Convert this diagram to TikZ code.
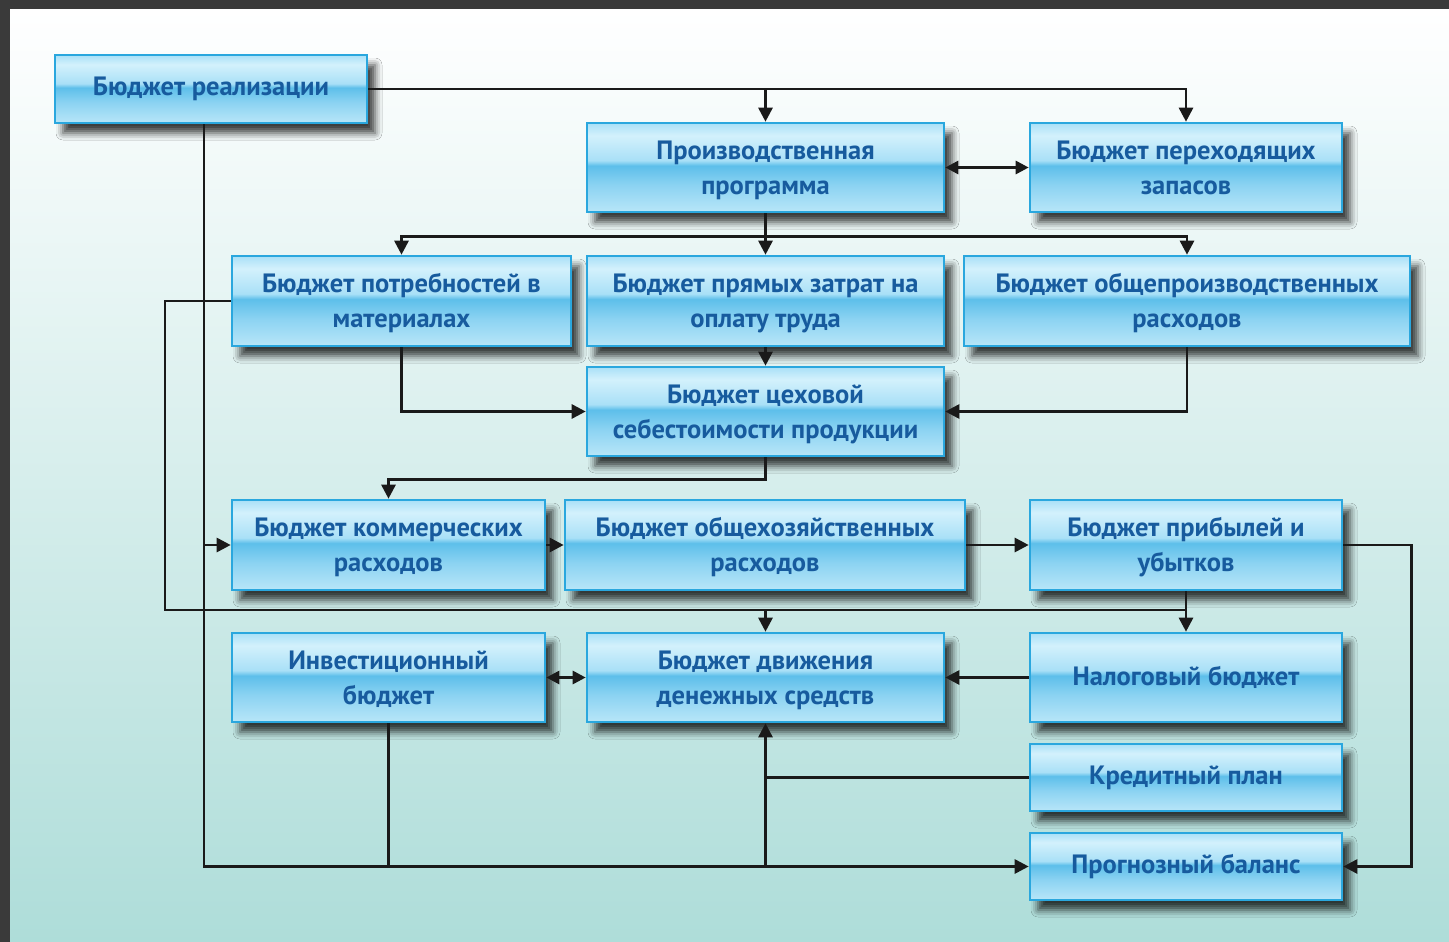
\documentclass[tikz,border=0pt]{standalone}
\usepackage{fontspec}
\setmainfont{PT Sans}
\usetikzlibrary{arrows.meta,shadows.blur,calc}
\definecolor{frame}{HTML}{3A3A3A}
\definecolor{bgtop}{HTML}{FFFFFF}
\definecolor{bgmid}{HTML}{DDF0F0}
\definecolor{bgbot}{HTML}{AEDDD9}
\definecolor{g1}{HTML}{D3F1FC}
\definecolor{g2}{HTML}{A9E0F7}
\definecolor{g3}{HTML}{5DBFEA}
\definecolor{g4}{HTML}{8CD3F2}
\definecolor{g5}{HTML}{B8E6F8}
\definecolor{bordc}{HTML}{2AA7DE}
\definecolor{txtc}{HTML}{175B9E}
\definecolor{linec}{HTML}{1A1A1A}
\pgfdeclareverticalshading{glossy}{100bp}{color(0bp)=(g5); color(25bp)=(g5); color(40bp)=(g4); color(51bp)=(g3); color(54bp)=(g2); color(68bp)=(g1); color(75bp)=(g2); color(100bp)=(g2)}
\begin{document}
\begin{tikzpicture}[x=1pt,y=-1pt,
  box/.style={draw=bordc, line width=2.6pt, shading=glossy, inner sep=0pt,
    align=center, text=txtc, font=\fontsize{26.5}{35}\selectfont\bfseries,
    blur shadow={shadow xshift=8pt, shadow yshift=-10pt, shadow blur radius=7pt, shadow opacity=75}},
  twoline/.style={box,
    execute at begin node={\rule{0pt}{62pt}},
    execute at end node={\rule[-9pt]{0pt}{9pt}}},
  ln/.style={draw=linec, line width=2.8pt},
  arr/.style={ln, -{Triangle[length=14pt,width=14pt]}},
  darr/.style={ln, {Triangle[length=13pt,width=13pt]}-{Triangle[length=13pt,width=13pt]}}]
\useasboundingbox (0,0) rectangle (1449,942);
\fill[frame] (0,0) rectangle (1449,942);
\shade[top color=bgtop, middle color=bgmid, bottom color=bgbot] (10,10) rectangle (1449,942);

\node[box, minimum width=312pt, minimum height=68pt] (real) at (211,89) {Бюджет реализации};
\node[twoline, minimum width=357pt, minimum height=89pt] (prog) at (765.5,167.5) {Производственная\\программа};
\node[twoline, minimum width=312pt, minimum height=89pt] (zap) at (1186,167.5) {Бюджет переходящих\\запасов};
\node[twoline, minimum width=339pt, minimum height=90pt] (mat) at (401.5,301) {Бюджет потребностей в\\материалах};
\node[twoline, minimum width=357pt, minimum height=90pt] (trud) at (765.5,301) {Бюджет прямых затрат на\\оплату труда};
\node[twoline, minimum width=446pt, minimum height=90pt] (opr) at (1187,301) {Бюджет общепроизводственных\\расходов};
\node[twoline, minimum width=357pt, minimum height=89pt] (cex) at (765.5,411.5) {Бюджет цеховой\\себестоимости продукции};
\node[twoline, minimum width=313pt, minimum height=90pt] (kom) at (388.5,545) {Бюджет коммерческих\\расходов};
\node[twoline, minimum width=400pt, minimum height=90pt] (ohz) at (765,545) {Бюджет общехозяйственных\\расходов};
\node[twoline, minimum width=312pt, minimum height=90pt] (pu) at (1186,545) {Бюджет прибылей и\\убытков};
\node[twoline, minimum width=313pt, minimum height=89pt] (inv) at (388.5,677.5) {Инвестиционный\\бюджет};
\node[twoline, minimum width=357pt, minimum height=89pt] (dds) at (765.5,677.5) {Бюджет движения\\денежных средств};
\node[box, minimum width=312pt, minimum height=89pt] (nal) at (1186,677.5) {Налоговый бюджет};
\node[box, minimum width=312pt, minimum height=67pt] (kred) at (1186,777.5) {Кредитный план};
\node[box, minimum width=312pt, minimum height=67pt] (bal) at (1186,866.5) {Прогнозный баланс};

% top
\draw[arr] (real.east) -| (zap.north);
\draw[arr] (prog.north |- real.east) -- (prog.north);
\draw[darr] (prog.east) -- (zap.west);
% production program fan-out
\coordinate (pj) at ($(prog.south)+(0,23)$);
\draw[ln] (prog.south) -- (pj);
\draw[arr] (pj) -- (trud.north);
\draw[arr] (pj) -| (mat.north);
\draw[arr] (pj) -| (opr.north);
% to workshop cost
\draw[arr] (trud.south) -- (cex.north);
\draw[arr] (mat.south) |- (cex.west);
\draw[arr] (opr.south) |- (cex.east);
\draw[arr] (cex.south) -- ++(0,22) -| (kom.north);
% row 4
\draw[arr] (kom.east) -- (ohz.west);
\draw[arr] (ohz.east) -- (pu.west);
\draw[arr] (pu.east) -- ++(68,0) |- (bal.east);
\draw[arr] (pu.south) -- (nal.north);
% left loop from materials
\coordinate (lj) at (165,610);
\draw[ln] (mat.west) -| (lj) -- (lj -| pu.south);
\draw[arr] (lj -| dds.north) -- (dds.north);
% sales budget trunk
\coordinate (rs) at ($(real.south)+(-7,0)$);
\draw[arr] (rs) |- (bal.west);
\draw[arr] (rs |- kom.west) -- (kom.west);
% row 5
\draw[darr] (inv.east) -- (dds.west);
\draw[arr] (nal.west) -- (dds.east);
\draw[arr] (dds.south |- bal.west) -- (dds.south);
\draw[ln] (kred.west) -- (kred.west -| dds.south);
\draw[ln] (inv.south) -- (inv.south |- bal.west);
\end{tikzpicture}
\end{document}
